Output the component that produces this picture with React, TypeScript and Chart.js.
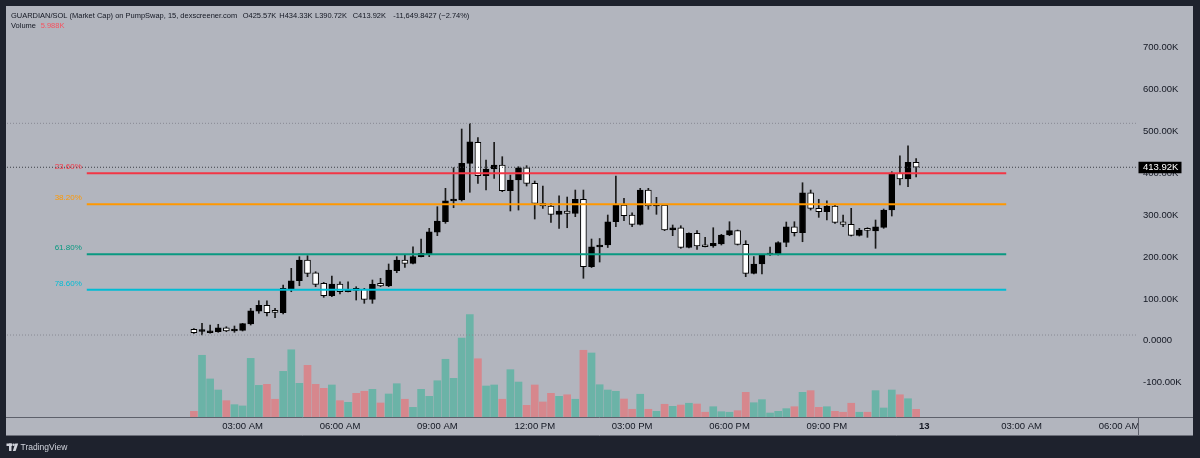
import { useEffect, useRef } from "react";
import { Chart, registerables } from "chart.js";
Chart.register(...registerables);

// ---- data (market cap in K, 15-minute candles starting 01:30 AM) ----
const OPEN = [27.4,22.2,19.3,21.7,31.2,23.4,25.0,40.1,70.4,84.7,69.4,67.0,123.5,143.3,192.7,162.4,137.1,107.6,135.5,117.1,121.9,122.8,99.0,137.1,130.7,167.2,192.7,184.8,200.6,206.3,258.8,284.0,333.4,335.8,423.3,473.4,393.7,409.7,419.3,358.0,383.5,412.8,375.6,327.9,321.5,301.7,309.6,304.1,337.5,176.7,223.7,228.5,284.0,323.9,300.0,277.8,359.6,321.5,323.9,264.2,269.7,223.0,256.4,228.5,226.1,230.9,252.3,262.6,230.1,161.0,183.2,204.6,206.3,234.4,272.1,257.8,353.2,316.0,307.9,321.5,284.0,277.8,251.6,265.0,261.9,270.7,311.9,399.5,385.9,425.57];
const HIGH = [28.9,41.7,37.7,39.4,33.6,35.3,41.7,77.5,95.6,95.6,77.5,133.1,172.9,200.6,203.0,164.8,139.5,154.5,140.9,140.9,129.0,125.2,145.0,149.1,183.2,200.6,204.6,224.4,242.8,268.3,319.8,363.7,412.8,505.1,518.7,484.4,431.2,473.4,439.1,395.4,415.2,417.6,381.1,369.2,327.9,346.0,342.9,359.6,359.6,242.8,244.0,300.0,393.0,339.8,305.5,363.7,363.7,342.2,325.5,276.2,274.5,257.8,262.6,246.8,269.7,254.0,284.0,264.2,238.7,200.6,206.3,223.7,236.3,283.3,284.0,377.0,359.6,337.5,334.1,323.9,300.0,316.0,268.3,269.7,288.1,314.3,403.3,441.4,465.3,434.33];
const LOW = [17.9,13.8,18.5,20.3,21.7,20.3,23.4,37.7,65.6,59.1,55.1,63.9,117.1,131.4,152.9,129.0,103.7,105.2,111.6,116.4,97.3,89.4,89.4,129.0,129.0,162.4,175.3,183.2,199.9,200.6,250.7,280.2,317.4,333.4,354.2,375.6,359.6,387.5,355.6,309.6,311.9,369.2,290.5,316.0,282.6,268.3,269.7,296.0,149.1,174.8,187.9,222.5,272.1,286.4,272.1,276.2,313.6,301.7,262.6,250.7,220.6,221.3,218.2,223.7,223.0,228.5,250.7,228.5,152.9,159.3,159.3,203.9,204.6,224.4,249.9,236.3,311.9,294.5,288.1,280.2,272.1,249.9,249.9,246.8,220.6,268.3,297.6,371.6,367.5,390.72];
const CLOSE = [19.3,23.4,23.4,31.2,23.4,25.8,40.8,71.8,84.7,67.0,68.0,125.2,143.3,192.7,161.0,134.7,107.6,135.5,117.1,122.8,120.4,99.0,134.7,130.7,168.9,192.7,184.8,200.6,208.7,260.2,285.7,334.1,337.5,423.3,474.8,393.7,409.7,419.3,358.0,383.5,412.8,375.6,327.9,321.5,301.7,309.6,304.1,337.5,176.7,224.4,227.8,284.0,323.9,298.4,277.8,359.6,321.5,325.5,264.2,269.7,223.0,256.4,226.1,224.4,232.5,252.3,262.6,230.1,161.0,183.2,204.6,207.0,234.4,272.1,257.8,353.2,316.0,307.9,321.5,282.6,277.8,251.6,264.2,263.5,272.1,311.9,399.5,385.9,425.7,413.92];
const VOLUME = [4.4,48.0,29.6,21.0,12.7,9.6,8.6,45.6,24.6,25.4,13.8,35.5,52.3,26.2,40.2,25.4,22.3,24.9,12.7,11.4,18.4,20.0,21.5,10.9,17.9,25.9,13.8,7.5,21.5,16.1,28.2,44.9,30.1,61.4,79.6,45.3,24.1,24.9,13.8,36.8,27.2,9.1,24.9,11.7,18.4,16.1,17.3,13.8,51.9,49.8,25.1,21.0,20.0,14.0,6.0,17.7,6.0,4.4,9.9,8.3,9.3,10.7,10.1,3.7,8.0,4.1,3.7,4.9,19.2,11.1,13.5,3.1,4.4,6.5,8.0,19.2,20.5,7.5,8.0,4.4,3.7,10.7,3.7,3.7,20.5,7.0,21.0,17.3,14.2,5.988];

const X_TICK_INDEX = [6, 18, 30, 42, 54, 66, 78, 90, 102, 114];
const X_TICK_LABELS = ["03:00 AM", "06:00 AM", "09:00 AM", "12:00 PM", "03:00 PM", "06:00 PM", "09:00 PM", "13", "03:00 AM", "06:00 AM"];
const Y_TICKS = [-100, 0, 100, 200, 300, 400, 500, 600, 700];

const FIB_HIGH = 518.7;
const FIB_LOW = 13.8;
const FIB_LEVELS = [0.236, 0.382, 0.618, 0.786];
const FIB_LABELS = ["23.60%", "38.20%", "61.80%", "78.60%"];
const FIB_COLORS = ["#f23645", "#ff9800", "#089981", "#00bcd4"];
const FIB_START = -13.2;
const FIB_END = 100.1;
const LAST_PRICE = 413.92;

const HEADER_TITLE = "GUARDIAN/SOL (Market Cap) on PumpSwap, 15, dexscreener.com";
const HEADER_VALUES = ["O425.57K", "H434.33K", "L390.72K", "C413.92K", "-11,649.8427 (\u22122.74%)"];
const VOLUME_TEXT = "5.988K";

// ---- layout / style ----
const X_MIN = -23.03;
const X_MAX = 116.34;
const Y_MIN = -181.7;
const Y_MAX = 796.1;
const YV_MAX = 318.9;
const FONT = "'Liberation Sans', Arial, Helvetica, sans-serif";
const TEXT = "#131722";
const PANEL = "#b2b5be";
const FRAME = "#1e222d";

const idx = OPEN.map((_, i) => i);
const isUp = (i: number) => CLOSE[i] >= OPEN[i];
const fibValue = (p: number) => FIB_HIGH - p * (FIB_HIGH - FIB_LOW);

const decorPlugin = {
  id: "decor",
  beforeDraw(chart: any) {
    const ctx = chart.ctx;
    ctx.save();
    ctx.fillStyle = FRAME;
    ctx.fillRect(0, 0, chart.width, chart.height);
    ctx.fillStyle = PANEL;
    ctx.fillRect(6, 6, 1187, 430);
    ctx.restore();
  },
  afterDraw(chart: any) {
    const ctx = chart.ctx;
    const xs = chart.scales.x;
    const ys = chart.scales.y;
    ctx.save();
    ctx.strokeStyle = "#5d606b";
    ctx.lineWidth = 1;
    ctx.beginPath();
    ctx.moveTo(6, 417.5);
    ctx.lineTo(1193, 417.5);
    ctx.moveTo(1138.5, 417);
    ctx.lineTo(1138.5, 436);
    ctx.stroke();
    ctx.strokeStyle = "#6b6e78";
    ctx.beginPath();
    ctx.moveTo(6, 435.5);
    ctx.lineTo(1193, 435.5);
    ctx.stroke();

    // header
    ctx.textBaseline = "middle";
    ctx.textAlign = "left";
    ctx.font = `10px ${FONT}`;
    const w10 = ctx.measureText(HEADER_TITLE).width;
    const fs = (10 * 226.7) / w10;
    ctx.font = `${fs}px ${FONT}`;
    ctx.fillStyle = TEXT;
    ctx.fillText(HEADER_TITLE, 11, 15.7);
    const starts = [242.7, 279.3, 315, 352.7, 393.3];
    HEADER_VALUES.forEach((t, k) => ctx.fillText(t, starts[k], 15.7));
    ctx.fillText("Volume", 11, 25.7);
    ctx.fillStyle = "#f7525f";
    ctx.fillText(VOLUME_TEXT, 40.7, 25.7);

    // fib labels
    ctx.font = `8px ${FONT}`;
    ctx.textAlign = "right";
    const lx = xs.getPixelForValue(FIB_START) - 5;
    FIB_LEVELS.forEach((p, k) => {
      const y = ys.getPixelForValue(fibValue(p));
      ctx.fillStyle = FIB_COLORS[k];
      ctx.fillText(FIB_LABELS[k], lx, y - 6);
    });

    // last price box
    const py = ys.getPixelForValue(LAST_PRICE);
    ctx.fillStyle = "#000000";
    ctx.fillRect(1138.5, py - 5.5, 43, 11.5);
    ctx.fillStyle = "#ffffff";
    ctx.textAlign = "left";
    ctx.font = `9.5px ${FONT}`;
    ctx.fillText(LAST_PRICE.toFixed(2) + "K", 1143, py + 0.5);

    // TradingView logo
    ctx.fillStyle = "#d1d4dc";
    ctx.fillRect(6.5, 443.5, 5.5, 2.5);
    ctx.fillRect(9, 443.5, 2.5, 7.5);
    ctx.beginPath();
    ctx.arc(13.6, 444.8, 1.3, 0, Math.PI * 2);
    ctx.fill();
    ctx.beginPath();
    ctx.moveTo(15.2, 443.5);
    ctx.lineTo(18.2, 443.5);
    ctx.lineTo(15.6, 451);
    ctx.lineTo(12.8, 451);
    ctx.closePath();
    ctx.fill();
    ctx.font = `8.5px ${FONT}`;
    ctx.fillText("TradingView", 20.5, 447.8);
    ctx.restore();
  },
};

export default function App() {
  const ref = useRef<HTMLCanvasElement>(null);
  useEffect(() => {
    const canvas = ref.current;
    if (!canvas) return;
    Chart.defaults.font.family = FONT;
    const hline = (y: number) => [
      { x: X_MIN, y },
      { x: X_MAX, y },
    ];
    const datasets: any[] = [];
    FIB_LEVELS.forEach((p, k) => {
      datasets.push({
        type: "line",
        data: [
          { x: FIB_START, y: fibValue(p) },
          { x: FIB_END, y: fibValue(p) },
        ],
        borderColor: FIB_COLORS[k],
        borderWidth: 2,
        pointRadius: 0,
        yAxisID: "y",
        order: 0,
      });
    });
    [0, 1].forEach((p) => {
      datasets.push({
        type: "line",
        data: hline(fibValue(p)),
        borderColor: "#878a93",
        borderWidth: 1,
        borderDash: [1, 2],
        pointRadius: 0,
        yAxisID: "y",
        order: 0,
      });
    });
    datasets.push({
      type: "line",
      data: hline(LAST_PRICE),
      borderColor: "#3b3e46",
      borderWidth: 1,
      borderDash: [1, 2],
      pointRadius: 0,
      yAxisID: "y",
      order: 0,
    });
    datasets.push({
      type: "bar",
      data: idx.map((i) => ({ x: i, y: [Math.min(OPEN[i], CLOSE[i]), Math.max(OPEN[i], CLOSE[i])] })),
      backgroundColor: idx.map((i) => (isUp(i) ? "#000000" : "#ffffff")),
      borderColor: "#000000",
      borderWidth: 1,
      borderSkipped: false,
      barThickness: 6,
      minBarLength: 2,
      grouped: false,
      yAxisID: "y",
      order: 1,
    });
    datasets.push({
      type: "bar",
      data: idx.map((i) => ({ x: i, y: [LOW[i], HIGH[i]] })),
      backgroundColor: "#1a1a1a",
      borderWidth: 0,
      barThickness: 1,
      grouped: false,
      yAxisID: "y",
      order: 2,
    });
    datasets.push({
      type: "bar",
      data: idx.map((i) => ({ x: i, y: VOLUME[i] })),
      backgroundColor: idx.map((i) => (isUp(i) ? "#6bb3a7" : "#d6878d")),
      borderWidth: 0,
      barThickness: 7,
      grouped: false,
      yAxisID: "yv",
      order: 3,
    });

    const chart = new Chart(canvas, {
      type: "bar",
      data: { datasets },
      plugins: [decorPlugin],
      options: {
        animation: false,
        responsive: false,
        events: [],
        layout: { padding: { left: 7, right: 7, top: 7, bottom: 22 } },
        plugins: { legend: { display: false }, tooltip: { enabled: false } },
        scales: {
          x: {
            type: "linear",
            offset: false,
            min: X_MIN,
            max: X_MAX,
            grid: { display: false, drawTicks: false },
            border: { display: false },
            afterBuildTicks: (s: any) => {
              s.ticks = X_TICK_INDEX.map((v) => ({ value: v }));
            },
            afterFit: (s: any) => {
              s.height = 19;
              s.paddingLeft = 0;
              s.paddingRight = 0;
            },
            ticks: {
              autoSkip: false,
              maxRotation: 0,
              padding: 4,
              color: TEXT,
              font: (c: any) => ({ size: 9.5, family: FONT, weight: c.tick && c.tick.value === 90 ? "bold" : "normal" }),
              callback: (v: any) => {
                const k = X_TICK_INDEX.indexOf(Number(v));
                return k >= 0 ? X_TICK_LABELS[k] : "";
              },
            },
          },
          y: {
            type: "linear",
            position: "right",
            min: Y_MIN,
            max: Y_MAX,
            grid: { display: false, drawTicks: false },
            border: { display: false },
            afterBuildTicks: (s: any) => {
              s.ticks = Y_TICKS.map((v) => ({ value: v }));
            },
            afterFit: (s: any) => {
              s.width = 55;
              s.paddingTop = 0;
              s.paddingBottom = 0;
            },
            ticks: {
              padding: 5,
              color: TEXT,
              font: { size: 9.5, family: FONT },
              callback: (v: any) => (Number(v) === 0 ? "0.0000" : Number(v).toFixed(2) + "K"),
            },
          },
          yv: {
            type: "linear",
            display: false,
            min: 0,
            max: YV_MAX,
            afterFit: (s: any) => {
              s.width = 0;
              s.paddingTop = 0;
              s.paddingBottom = 0;
            },
          },
        },
      } as any,
    });
    return () => chart.destroy();
  }, []);
  return (
    <div style={{ position: "fixed", left: 0, top: 0, width: 1200, height: 458, background: FRAME }}>
      <canvas ref={ref} width={1200} height={458} style={{ display: "block", width: 1200, height: 458 }} />
    </div>
  );
}
